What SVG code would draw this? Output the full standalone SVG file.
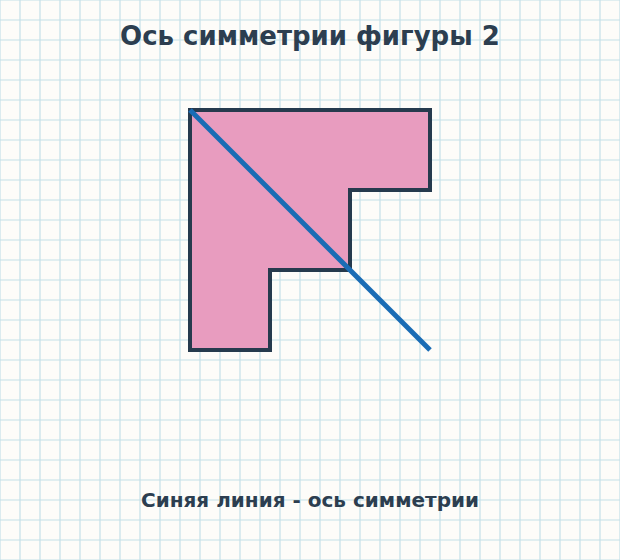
<svg xmlns="http://www.w3.org/2000/svg" width="620" height="560" viewBox="0 0 620 560">
<defs>
<pattern id="grid" x="-10" y="-10" width="20" height="20" patternUnits="userSpaceOnUse">
<path d="M10 0 V20 M0 10 H20" fill="none" stroke="#c4e0e8" stroke-width="1.2"/>
</pattern>
<style>
.t{font-family:"DejaVu Sans",sans-serif;font-weight:bold;fill:#2c3e50;text-anchor:middle}
</style>
</defs>
<rect width="620" height="560" fill="#fdfcf9"/>
<rect width="620" height="560" fill="url(#grid)"/>
<g id="figure">
<polygon points="190,110 430,110 430,190 350,190 350,270 270,270 270,350 190,350" fill="#e89cbf" stroke="#263a4d" stroke-width="4"/>
</g>
<g id="connectors">
<line x1="190" y1="110" x2="430" y2="350" stroke="#1a6cb5" stroke-width="5"/>
</g>
<text class="t" x="310" y="45" font-size="26">Ось симметрии фигуры 2</text>
<text class="t" x="310" y="507" font-size="20">Синяя линия - ось симметрии</text>
</svg>
